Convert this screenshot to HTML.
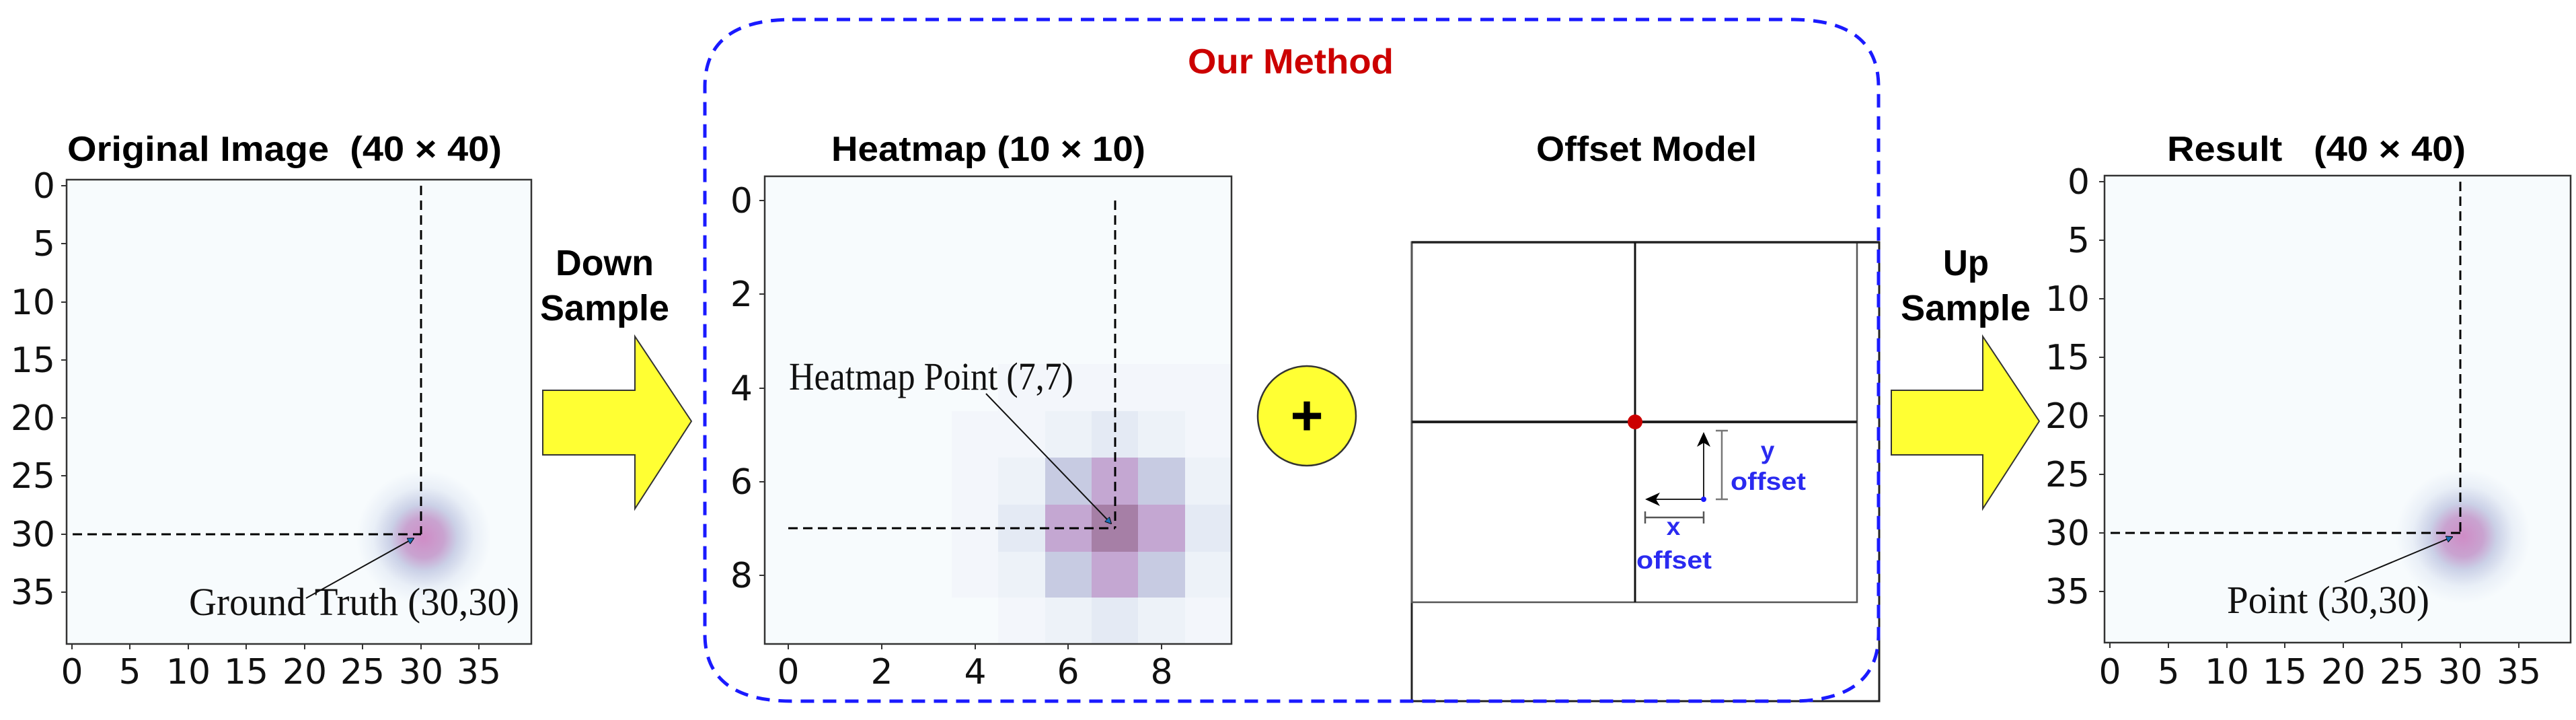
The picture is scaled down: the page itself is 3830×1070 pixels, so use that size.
<!DOCTYPE html>
<html><head><meta charset="utf-8"><style>
html,body{margin:0;padding:0;background:#fff;}
svg{display:block;}
.t{font-family:"Liberation Sans",Arial,sans-serif;font-weight:bold;}
.tk{font-family:"DejaVu Sans",sans-serif;font-size:52px;fill:#111;}
.sf{font-family:"Liberation Serif",serif;fill:#111;}
</style></head><body>
<svg width="3830" height="1070" viewBox="0 0 3830 1070" xmlns="http://www.w3.org/2000/svg">
<defs>
<radialGradient id="blob" cx="0.5" cy="0.5" r="0.5">
<stop offset="0" stop-color="#cf8cc6"/>
<stop offset="0.3" stop-color="#c9a3d0"/>
<stop offset="0.5" stop-color="#cbd1e7"/>
<stop offset="0.75" stop-color="#e9eff7"/>
<stop offset="1" stop-color="#f7fbfd"/>
</radialGradient>
<marker id="ah" markerWidth="10" markerHeight="10" refX="9" refY="5" orient="auto" markerUnits="userSpaceOnUse"><path d="M0,0 L10,5 L0,10 z" fill="#1a6fb5" stroke="#000" stroke-width="1"/></marker>
<marker id="bh" markerWidth="22" markerHeight="20" refX="20" refY="10" orient="auto" markerUnits="userSpaceOnUse"><path d="M0,0 L22,10 L0,20 L6,10 z" fill="#000"/></marker>
</defs>

<!-- ===== Left plot ===== -->
<text class="t" x="100" y="239" font-size="52" textLength="646" lengthAdjust="spacingAndGlyphs" xml:space="preserve">Original Image  (40 × 40)</text>
<rect x="99" y="267" width="691" height="690" fill="#f7fbfd" stroke="#333" stroke-width="2.5"/>
<circle cx="630" cy="799" r="100" fill="url(#blob)"/>
<g stroke="#000" stroke-width="3" stroke-dasharray="14,8" fill="none">
<line x1="626" y1="276" x2="626" y2="794"/>
<line x1="108" y1="794" x2="626" y2="794"/>
</g>
<line x1="455" y1="889" x2="615" y2="800" stroke="#111" stroke-width="2" marker-end="url(#ah)"/>
<text class="sf" x="281" y="914" font-size="58" textLength="491" lengthAdjust="spacingAndGlyphs">Ground Truth (30,30)</text>
<g stroke="#333" stroke-width="2">
<line x1="99" y1="276" x2="91" y2="276"/><line x1="99" y1="362" x2="91" y2="362"/><line x1="99" y1="449" x2="91" y2="449"/><line x1="99" y1="535" x2="91" y2="535"/><line x1="99" y1="621" x2="91" y2="621"/><line x1="99" y1="707" x2="91" y2="707"/><line x1="99" y1="794" x2="91" y2="794"/><line x1="99" y1="880" x2="91" y2="880"/>
<line x1="107" y1="957" x2="107" y2="965"/><line x1="193" y1="957" x2="193" y2="965"/><line x1="280" y1="957" x2="280" y2="965"/><line x1="366" y1="957" x2="366" y2="965"/><line x1="453" y1="957" x2="453" y2="965"/><line x1="539" y1="957" x2="539" y2="965"/><line x1="626" y1="957" x2="626" y2="965"/><line x1="712" y1="957" x2="712" y2="965"/>
</g>
<g class="tk" text-anchor="end">
<text x="82" y="294">0</text><text x="82" y="380">5</text><text x="82" y="467">10</text><text x="82" y="553">15</text><text x="82" y="639">20</text><text x="82" y="725">25</text><text x="82" y="812">30</text><text x="82" y="898">35</text>
</g>
<g class="tk" text-anchor="middle">
<text x="107" y="1016">0</text><text x="193" y="1016">5</text><text x="280" y="1016">10</text><text x="366" y="1016">15</text><text x="453" y="1016">20</text><text x="539" y="1016">25</text><text x="626" y="1016">30</text><text x="712" y="1016">35</text>
</g>

<!-- Down sample -->
<text class="t" x="826" y="409" font-size="54" textLength="146" lengthAdjust="spacingAndGlyphs">Down</text>
<text class="t" x="803" y="476" font-size="54" textLength="192" lengthAdjust="spacingAndGlyphs">Sample</text>
<path d="M807,580 L944,580 L944,500 L1028,626 L944,756 L944,676 L807,676 Z" fill="#ffff33" stroke="#333" stroke-width="2"/>

<text class="t" x="1766" y="109" font-size="52" fill="#cc0000" textLength="306" lengthAdjust="spacingAndGlyphs">Our Method</text>

<!-- Heatmap -->
<text class="t" x="1236" y="239" font-size="52" textLength="467" lengthAdjust="spacingAndGlyphs">Heatmap (10 × 10)</text>
<rect x="1137" y="262" width="694" height="695" fill="#f7fbfd"/>
<g>
<rect x="1484" y="541" width="347" height="416" fill="#f3f6fb"/>
<rect x="1415" y="611" width="416" height="277" fill="#f3f6fb"/>
<rect x="1554" y="611" width="208" height="346" fill="#edf2f8"/>
<rect x="1484" y="680" width="347" height="208" fill="#edf2f8"/>
<rect x="1623" y="611" width="69" height="346" fill="#e4eaf4"/>
<rect x="1484" y="750" width="347" height="70" fill="#e4eaf4"/>
<rect x="1554" y="680" width="208" height="208" fill="#c7cbe2"/>
<rect x="1623" y="680" width="69" height="208" fill="#c4a7d2"/>
<rect x="1554" y="750" width="208" height="70" fill="#c4a7d2"/>
<rect x="1623" y="750" width="69" height="70" fill="#a67fa6"/>
</g>
<rect x="1137" y="262" width="694" height="695" fill="none" stroke="#333" stroke-width="2.5"/>
<g stroke="#000" stroke-width="3" stroke-dasharray="14,8" fill="none">
<line x1="1658" y1="298" x2="1658" y2="785"/>
<line x1="1172" y1="785" x2="1658" y2="785"/>
</g>
<line x1="1466" y1="585" x2="1652" y2="778" stroke="#111" stroke-width="2" marker-end="url(#ah)"/>
<text class="sf" x="1173" y="579" font-size="58" textLength="423" lengthAdjust="spacingAndGlyphs">Heatmap Point (7,7)</text>
<g stroke="#333" stroke-width="2">
<line x1="1137" y1="298" x2="1129" y2="298"/><line x1="1137" y1="437" x2="1129" y2="437"/><line x1="1137" y1="577" x2="1129" y2="577"/><line x1="1137" y1="716" x2="1129" y2="716"/><line x1="1137" y1="855" x2="1129" y2="855"/>
<line x1="1172" y1="957" x2="1172" y2="965"/><line x1="1311" y1="957" x2="1311" y2="965"/><line x1="1450" y1="957" x2="1450" y2="965"/><line x1="1588" y1="957" x2="1588" y2="965"/><line x1="1727" y1="957" x2="1727" y2="965"/>
</g>
<g class="tk" text-anchor="end">
<text x="1119" y="316">0</text><text x="1119" y="455">2</text><text x="1119" y="595">4</text><text x="1119" y="734">6</text><text x="1119" y="873">8</text>
</g>
<g class="tk" text-anchor="middle">
<text x="1172" y="1016">0</text><text x="1311" y="1016">2</text><text x="1450" y="1016">4</text><text x="1588" y="1016">6</text><text x="1727" y="1016">8</text>
</g>

<!-- plus -->
<ellipse cx="1943" cy="618" rx="73" ry="74" fill="#ffff33" stroke="#333" stroke-width="2.5"/>
<text class="t" x="1943" y="646" font-size="84" text-anchor="middle" fill="#000">+</text>

<!-- Offset Model -->
<text class="t" x="2284" y="239" font-size="52" textLength="328" lengthAdjust="spacingAndGlyphs">Offset Model</text>
<rect x="2099" y="360" width="695" height="682" fill="#fff" stroke="#222" stroke-width="3"/>
<rect x="2099" y="360" width="662" height="535" fill="none" stroke="#555" stroke-width="2.5"/>
<line x1="2099" y1="360" x2="2794" y2="360" stroke="#222" stroke-width="3.5"/>
<line x1="2431" y1="360" x2="2431" y2="895" stroke="#111" stroke-width="3"/>
<line x1="2099" y1="627" x2="2761" y2="627" stroke="#222" stroke-width="4"/>
<circle cx="2431" cy="627" r="11" fill="#cc0000"/>
<line x1="2533" y1="742" x2="2533" y2="644" stroke="#222" stroke-width="2" marker-end="url(#bh)"/>
<line x1="2533" y1="742" x2="2448" y2="742" stroke="#222" stroke-width="2" marker-end="url(#bh)"/>
<circle cx="2533" cy="742" r="4" fill="#1a1aff"/>
<g stroke="#777" stroke-width="2.5">
<line x1="2560" y1="640" x2="2560" y2="742"/><line x1="2551" y1="640" x2="2569" y2="640"/><line x1="2551" y1="742" x2="2569" y2="742"/>
</g>
<g stroke="#555" stroke-width="2.5">
<line x1="2446" y1="769" x2="2533" y2="769"/><line x1="2446" y1="760" x2="2446" y2="778"/><line x1="2533" y1="760" x2="2533" y2="778"/>
</g>
<g class="t" fill="#2a2af0" font-size="37">
<text x="2628" y="682" text-anchor="middle">y</text>
<text x="2573" y="728" textLength="112" lengthAdjust="spacingAndGlyphs">offset</text>
<text x="2488" y="795" text-anchor="middle">x</text>
<text x="2433" y="845" textLength="112" lengthAdjust="spacingAndGlyphs">offset</text>
</g>

<!-- ===== Our Method box (on top) ===== -->
<path d="M1178,29 L2663,29 Q2793,29 2793,129 L2793,942 Q2793,1042 2663,1042 L1178,1042 Q1048,1042 1048,942 L1048,129 Q1048,29 1178,29 Z" fill="none" stroke="#1a1aff" stroke-width="5" stroke-dasharray="20,13"/>

<!-- Up sample -->
<text class="t" x="2889" y="409" font-size="54" textLength="68" lengthAdjust="spacingAndGlyphs">Up</text>
<text class="t" x="2826" y="476" font-size="54" textLength="193" lengthAdjust="spacingAndGlyphs">Sample</text>
<path d="M2812,580 L2948,580 L2948,500 L3032,626 L2948,756 L2948,676 L2812,676 Z" fill="#ffff33" stroke="#333" stroke-width="2"/>

<!-- ===== Result plot ===== -->
<text class="t" x="3222" y="239" font-size="52" textLength="444" lengthAdjust="spacingAndGlyphs" xml:space="preserve">Result   (40 × 40)</text>
<rect x="3129" y="261" width="693" height="694" fill="#f7fbfd" stroke="#333" stroke-width="2.5"/>
<circle cx="3662" cy="797" r="100" fill="url(#blob)"/>
<g stroke="#000" stroke-width="3" stroke-dasharray="14,8" fill="none">
<line x1="3658" y1="270" x2="3658" y2="792"/>
<line x1="3138" y1="792" x2="3658" y2="792"/>
</g>
<line x1="3486" y1="865" x2="3646" y2="798" stroke="#111" stroke-width="2" marker-end="url(#ah)"/>
<text class="sf" x="3311" y="911" font-size="58" textLength="301" lengthAdjust="spacingAndGlyphs">Point (30,30)</text>
<g stroke="#333" stroke-width="2">
<line x1="3129" y1="270" x2="3121" y2="270"/><line x1="3129" y1="357" x2="3121" y2="357"/><line x1="3129" y1="444" x2="3121" y2="444"/><line x1="3129" y1="531" x2="3121" y2="531"/><line x1="3129" y1="618" x2="3121" y2="618"/><line x1="3129" y1="705" x2="3121" y2="705"/><line x1="3129" y1="792" x2="3121" y2="792"/><line x1="3129" y1="879" x2="3121" y2="879"/>
<line x1="3137" y1="955" x2="3137" y2="963"/><line x1="3224" y1="955" x2="3224" y2="963"/><line x1="3311" y1="955" x2="3311" y2="963"/><line x1="3397" y1="955" x2="3397" y2="963"/><line x1="3484" y1="955" x2="3484" y2="963"/><line x1="3571" y1="955" x2="3571" y2="963"/><line x1="3658" y1="955" x2="3658" y2="963"/><line x1="3745" y1="955" x2="3745" y2="963"/>
</g>
<g class="tk" text-anchor="end">
<text x="3107" y="288">0</text><text x="3107" y="375">5</text><text x="3107" y="462">10</text><text x="3107" y="549">15</text><text x="3107" y="636">20</text><text x="3107" y="723">25</text><text x="3107" y="810">30</text><text x="3107" y="897">35</text>
</g>
<g class="tk" text-anchor="middle">
<text x="3137" y="1016">0</text><text x="3224" y="1016">5</text><text x="3311" y="1016">10</text><text x="3397" y="1016">15</text><text x="3484" y="1016">20</text><text x="3571" y="1016">25</text><text x="3658" y="1016">30</text><text x="3745" y="1016">35</text>
</g>
</svg>
</body></html>
